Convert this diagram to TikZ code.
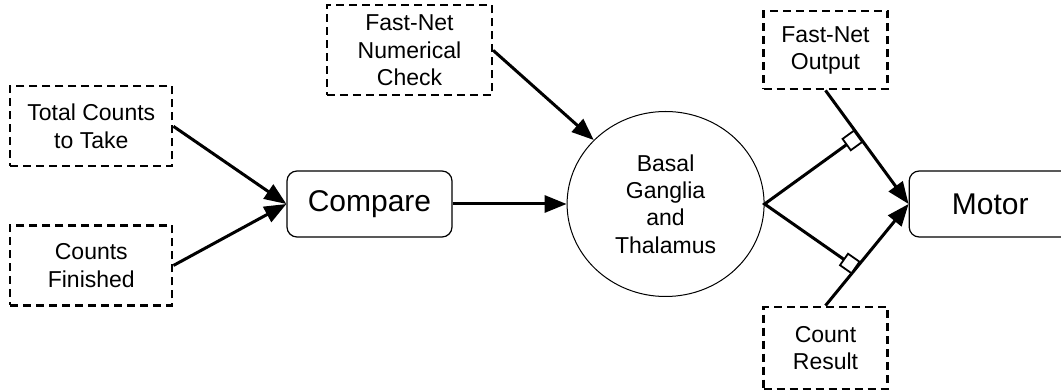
\documentclass[tikz,border=0pt]{standalone}
\usepackage{fontspec}
\setmainfont{Liberation Sans}
\usetikzlibrary{shapes.geometric, positioning, arrows.meta}
\tikzset{
    >={Triangle[length=11pt,width=8.5pt]}, % big filled arrow heads
    signal/.style={draw, line width=1.1pt, dash pattern=on 4pt off 2.5pt, align=center, font=\fontsize{11.5}{13.6}\selectfont}, % dashed input boxes
    stage/.style={draw, line width=0.6pt, rounded corners=5pt, minimum width=82.5pt, minimum height=33pt, font=\fontsize{15}{18}\selectfont}, % rounded processing boxes
    hub/.style={draw, ellipse, line width=0.5pt, minimum width=98.5pt, minimum height=92.5pt, inner sep=0pt, align=center, font=\fontsize{11.5}{13.6}\selectfont}, % the big ellipse
    wire/.style={->, line width=1.5pt}, % thick arrows
    gate/.style={draw, fill=white, line width=0.9pt, minimum size=7pt, inner sep=0pt}, % small square where a line gates another
}

\begin{document}
\begin{tikzpicture}
    \useasboundingbox (-184.75pt,-93pt) rectangle (345.75pt,102pt);
    \node[stage] (compare) at (0,0) {Compare};
    \node[signal, minimum width=81pt, minimum height=40pt, above left=1.5pt and 56.5pt of compare] (total) {Total Counts\\to Take};
    \node[signal, minimum width=81pt, minimum height=40pt, below=28.5pt of total] (finished) {Counts\\Finished};
    \node[signal, minimum width=82.5pt, minimum height=45pt, above=37pt of compare, xshift=20pt] (check) {Fast-Net\\Numerical\\Check};
    \node[hub, right=57pt of compare] (bg) {Basal\\Ganglia\\and\\Thalamus};
    \node[stage, minimum width=81pt, right=72pt of bg] (motor) {Motor};
    \node[signal, minimum width=62pt, minimum height=39pt, above left=40pt and 10pt of motor] (output) {Fast-Net\\Output};
    \node[signal, minimum width=62pt, minimum height=41pt, below left=34pt and 10pt of motor] (result) {Count\\Result};
    \draw[wire] (total.east) -- (compare.west);
    \draw[wire] (finished.east) -- (compare.west);
    \draw[wire] (compare) -- (bg);
    \draw[wire] (check.east) -- (bg);
    \draw[wire] (output.south) -- coordinate[pos=0.4] (g1) (motor.west);
    \draw[wire] (result.north) -- coordinate[pos=0.37] (g2) (motor.west);
    % gating lines from the ellipse
    \draw[line width=1.5pt] (g1) -- (bg.east) -- (g2);
    \path (bg.east) -- (g1) node[gate, pos=1, sloped, anchor=east] {};
    \path (bg.east) -- (g2) node[gate, pos=1, sloped, anchor=east] {};
\end{tikzpicture}
\end{document}
